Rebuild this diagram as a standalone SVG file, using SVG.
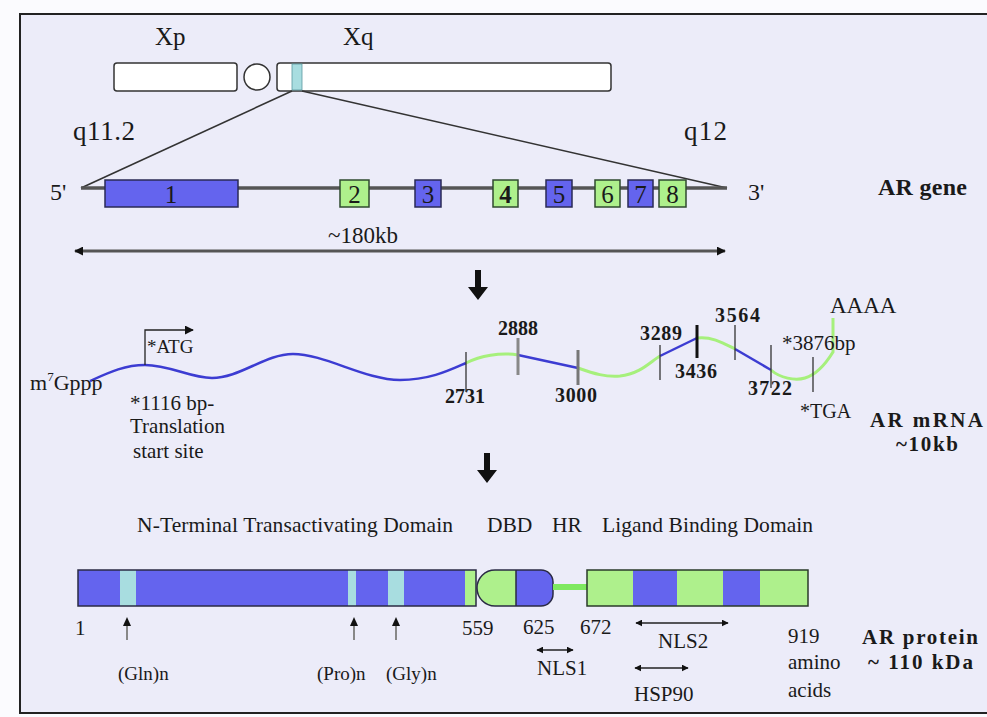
<svg xmlns="http://www.w3.org/2000/svg" width="987" height="717" viewBox="0 0 987 717">
<defs>
<style>
text{font-family:"Liberation Serif","Times New Roman",serif;fill:#1a1a1a}
.b{font-weight:bold}
.blue{fill:#6464ee;stroke:#2a2a55;stroke-width:1.5}
.green{fill:#aef08c;stroke:#2f4a2f;stroke-width:1.5}
.chr{fill:#ffffff;stroke:#333;stroke-width:1.5}
.wb{fill:none;stroke:#3c3cd2;stroke-width:2.5}
.wg{fill:none;stroke:#a6f07c;stroke-width:3}
.tk{stroke:#333;stroke-width:1.3}
.ex{font-size:25px;text-anchor:middle}
</style>
<marker id="ah" viewBox="0 0 10 10" refX="9" refY="5" markerWidth="9" markerHeight="9" markerUnits="userSpaceOnUse" orient="auto-start-reverse">
<path d="M0,0 L10,5 L0,10 Z" fill="#111"/>
</marker>
<marker id="ahs" viewBox="0 0 10 10" refX="9" refY="5" markerWidth="7" markerHeight="7" markerUnits="userSpaceOnUse" orient="auto-start-reverse">
<path d="M0,0 L10,5 L0,10 Z" fill="#111"/>
</marker>
</defs>
<rect x="0" y="0" width="987" height="717" fill="#fbfbfe"/>
<rect x="20" y="14" width="990" height="699" fill="#ececf9" stroke="#222" stroke-width="2"/>

<g id="chromosome">
<text x="155" y="45" style="font-size:25px">Xp</text>
<text x="343" y="45" style="font-size:25px">Xq</text>
<rect class="chr" x="114" y="63" width="123" height="28" rx="3"/>
<circle class="chr" cx="257" cy="77" r="13"/>
<rect class="chr" x="277" y="63" width="334" height="28" rx="3"/>
<rect x="292" y="64" width="10" height="26" fill="#a8dde0" stroke="#5a9aa0" stroke-width="0.8"/>
<text x="73" y="140" style="font-size:27px" textLength="62">q11.2</text>
<text x="684" y="140" style="font-size:27px" textLength="43">q12</text>
</g>

<g id="connectors">
<line x1="292" y1="91" x2="81" y2="188" stroke="#333" stroke-width="1.6"/>
<line x1="302" y1="91" x2="727" y2="188" stroke="#333" stroke-width="1.6"/>
<line x1="81" y1="188" x2="727" y2="188" stroke="#555" stroke-width="3.5"/>
<line x1="75" y1="251" x2="725" y2="251" stroke="#555" stroke-width="3" marker-start="url(#ah)" marker-end="url(#ah)"/>
<path d="M475,270 h6 v17 h7 l-10,13 l-10,-13 h7 z" fill="#111"/>
<path d="M484,453 h6 v17 h7 l-10,13 l-10,-13 h7 z" fill="#111"/>
</g>

<g id="ar-gene">
<text x="50" y="200" style="font-size:24px">5'</text>
<text x="748" y="200" style="font-size:24px">3'</text>
<rect class="blue" x="105" y="180" width="133" height="27"/>
<text class="ex" x="171" y="203">1</text>
<rect class="green" x="340" y="180" width="29" height="27"/>
<text class="ex" x="354.5" y="203">2</text>
<rect class="blue" x="415" y="180" width="26" height="27"/>
<text class="ex" x="428" y="203">3</text>
<rect class="green" x="493" y="180" width="25" height="27"/>
<text class="ex b" x="505.5" y="203">4</text>
<rect class="blue" x="546" y="180" width="26" height="27"/>
<text class="ex" x="559" y="203">5</text>
<rect class="green" x="595" y="180" width="25" height="27"/>
<text class="ex" x="607.5" y="203">6</text>
<rect class="blue" x="628" y="180" width="25" height="27"/>
<text class="ex" x="640.5" y="203">7</text>
<rect class="green" x="659" y="180" width="27" height="27"/>
<text class="ex" x="672.5" y="203">8</text>
<text class="b" x="878" y="195" style="font-size:24px" textLength="89">AR gene</text>
<text x="328" y="243" style="font-size:23px" textLength="70">~180kb</text>
</g>

<g id="ar-mrna">
<path class="wb" d="M90,381 C110,372 125,365 145,365 C170,365 190,378 212,378 C240,378 265,354 293,354 C325,354 365,380 400,380 C430,380 450,370 466,363"/>
<path class="wg" d="M466,363 C480,356 500,352 518,355"/>
<path class="wb" d="M518,355 L578,368"/>
<path class="wg" d="M578,368 C595,374 605,377 620,376 C640,374 650,362 660,356"/>
<path class="wb" d="M660,356 L697,338"/>
<path class="wg" d="M697,338 C712,336 725,344 735,349"/>
<path class="wb" d="M735,349 L771,370"/>
<path class="wg" d="M771,370 C780,378 795,381 805,378 C815,375 825,365 833,352 L833,318"/>
<line class="tk" x1="466" y1="352" x2="466" y2="392"/>
<line x1="518" y1="338" x2="518" y2="375" stroke="#888" stroke-width="3"/>
<line x1="578" y1="350" x2="578" y2="385" stroke="#777" stroke-width="3"/>
<line class="tk" x1="660" y1="345" x2="660" y2="380"/>
<line x1="697" y1="325" x2="697" y2="358" stroke="#111" stroke-width="3"/>
<line class="tk" x1="735" y1="325" x2="735" y2="360"/>
<line class="tk" x1="771" y1="345" x2="771" y2="388"/>
<line class="tk" x1="813" y1="357" x2="813" y2="392"/>
<polyline points="145,365 145,330 193,330" fill="none" stroke="#222" stroke-width="1.3" marker-end="url(#ah)"/>
<text x="147" y="353" style="font-size:19px">*ATG</text>
<text x="30" y="390" style="font-size:22px">m<tspan style="font-size:13px" dy="-9">7</tspan><tspan dy="9">Gppp</tspan></text>
<text x="130" y="410" style="font-size:21px">*1116 bp-</text>
<text x="130" y="433" style="font-size:21px">Translation</text>
<text x="133" y="458" style="font-size:21px">start site</text>
<g class="b" style="font-size:20px">
<text x="445" y="403" textLength="40">2731</text>
<text x="498" y="335" textLength="40">2888</text>
<text x="555" y="402" textLength="42">3000</text>
<text x="640" y="340" textLength="42">3289</text>
<text x="675" y="378" textLength="42">3436</text>
<text x="715" y="322" textLength="45">3564</text>
<text x="748" y="395" textLength="44">3722</text>
</g>
<text x="782" y="350" style="font-size:21px">*3876bp</text>
<text x="830" y="313" style="font-size:23px">AAAA</text>
<text x="800" y="418" style="font-size:20px">*TGA</text>
<text class="b" x="870" y="427" style="font-size:21px" textLength="113">AR mRNA</text>
<text class="b" x="896" y="451" style="font-size:21px" textLength="62">~10kb</text>
</g>

<g id="ar-protein">
<g style="font-size:21.5px">
<text x="137" y="532" textLength="316">N-Terminal Transactivating Domain</text>
<text x="487" y="532">DBD</text>
<text x="552" y="532">HR</text>
<text x="602" y="532" textLength="211">Ligand Binding Domain</text>
</g>
<rect x="78" y="570" width="398" height="36" fill="#6464ee"/>
<rect x="120" y="570" width="16" height="36" fill="#a8dde0"/>
<rect x="348" y="570" width="8" height="36" fill="#a8dde0"/>
<rect x="388" y="570" width="16" height="36" fill="#a8dde0"/>
<rect x="465" y="570" width="11" height="36" fill="#aef08c"/>
<rect x="78" y="570" width="398" height="36" fill="none" stroke="#2a2a44" stroke-width="1.5"/>
<path d="M516,570 L495,570 A18,18 0 0 0 495,606 L516,606 Z" fill="#aef08c"/>
<path d="M516,570 L541,570 A12,12 0 0 1 553,582 L553,594 A12,12 0 0 1 541,606 L516,606 Z" fill="#6464ee"/>
<path d="M495,570 L541,570 A12,12 0 0 1 553,582 L553,594 A12,12 0 0 1 541,606 L495,606 A18,18 0 0 1 495,570 Z M516,570 L516,606" fill="none" stroke="#2a2a44" stroke-width="1.5"/>
<line x1="553" y1="587" x2="587" y2="587" stroke="#7ee860" stroke-width="6"/>
<rect x="587" y="570" width="46" height="36" fill="#aef08c"/>
<rect x="633" y="570" width="44" height="36" fill="#6464ee"/>
<rect x="677" y="570" width="46" height="36" fill="#aef08c"/>
<rect x="723" y="570" width="37" height="36" fill="#6464ee"/>
<rect x="760" y="570" width="48" height="36" fill="#aef08c"/>
<rect x="587" y="570" width="221" height="36" fill="none" stroke="#2a3a2a" stroke-width="1.5"/>
<g stroke="#888" stroke-width="2">
<line x1="127" y1="640" x2="127" y2="624"/>
<line x1="354" y1="640" x2="354" y2="624"/>
<line x1="396" y1="640" x2="396" y2="624"/>
</g>
<g fill="#111">
<path d="M123,626 L127,617 L131,626 Z"/>
<path d="M350,626 L354,617 L358,626 Z"/>
<path d="M392,626 L396,617 L400,626 Z"/>
</g>
<g style="font-size:21px">
<text x="75" y="635">1</text>
<text x="462" y="635">559</text>
<text x="523" y="634">625</text>
<text x="580" y="634">672</text>
<text x="118" y="680" style="font-size:19px">(Gln)n</text>
<text x="317" y="680" style="font-size:19px">(Pro)n</text>
<text x="386" y="680" style="font-size:19px">(Gly)n</text>
<text x="658" y="648">NLS2</text>
<text x="537" y="675">NLS1</text>
<text x="634" y="701">HSP90</text>
<text x="788" y="643">919</text>
<text x="788" y="669">amino</text>
<text x="788" y="697">acids</text>
</g>
<line x1="636" y1="623" x2="728" y2="623" stroke="#222" stroke-width="1.3" marker-start="url(#ahs)" marker-end="url(#ahs)"/>
<line x1="537" y1="650" x2="573" y2="650" stroke="#222" stroke-width="1.3" marker-start="url(#ahs)" marker-end="url(#ahs)"/>
<line x1="635" y1="668" x2="688" y2="668" stroke="#222" stroke-width="1.3" marker-start="url(#ahs)" marker-end="url(#ahs)"/>
<text class="b" x="862" y="644" style="font-size:21px" textLength="116">AR protein</text>
<text class="b" x="868" y="669" style="font-size:21px" textLength="105">~ 110 kDa</text>
</g>
</svg>
